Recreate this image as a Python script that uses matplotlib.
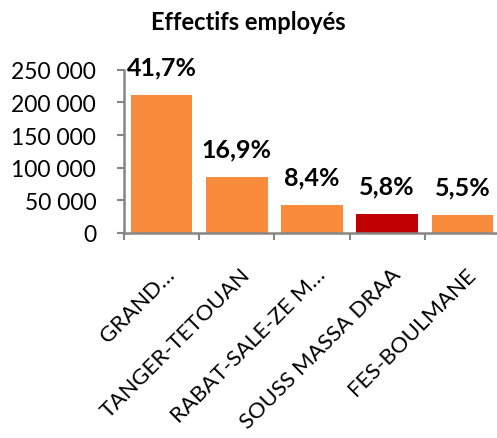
import matplotlib.pyplot as plt
from matplotlib.ticker import FuncFormatter
import matplotlib.transforms as mtransforms

regions = ["GRAND…", "TANGER-TETOUAN", "RABAT-SALE-ZE M…", "SOUSS MASSA DRAA", "FES-BOULMANE"]
effectifs = [211300, 85600, 42600, 29400, 27900]
parts = ["41,7%", "16,9%", "8,4%", "5,8%", "5,5%"]
colors = ["#F98B3C", "#F98B3C", "#F98B3C", "#C00000", "#F98B3C"]

plt.rcParams['font.family'] = ['Lato', 'DejaVu Sans']

fig = plt.figure(figsize=(4.97, 4.39), dpi=100)
ax = fig.add_axes([124 / 497, 1 - 234 / 439, 376 / 497, (234 - 70.7) / 439])

x = range(len(regions))
ax.bar(x, effectifs, width=0.82, color=colors)

for i, (v, p) in enumerate(zip(effectifs, parts)):
    ax.annotate(p, (i, v), xytext=(0, 12), textcoords='offset points',
                ha='center', va='bottom', fontsize=18, fontweight='bold')

ax.set_xlim(-0.5, 4.5)
ax.set_ylim(0, 250000)
ax.set_yticks(range(0, 250001, 50000))
ax.yaxis.set_major_formatter(FuncFormatter(lambda v, _: f"{int(v):,}".replace(",", " ")))
ax.tick_params(axis='y', labelsize=16.5, length=5, width=1.5, color='#868686', pad=15)

ax.set_xticks([i + 0.5 for i in range(-1, 5)], minor=False)
ax.set_xticklabels([])
ax.tick_params(axis='x', length=5, width=1.5, color='#868686')
for i, r in enumerate(regions):
    off = mtransforms.ScaledTranslation(10 / 100, -38 / 100, fig.dpi_scale_trans)
    ax.text(i, 0, r, transform=ax.get_xaxis_transform() + off, rotation=45,
            rotation_mode='anchor', ha='right', va='center', fontsize=16)

for s in ['top', 'right']:
    ax.spines[s].set_visible(False)
for s in ['left', 'bottom']:
    ax.spines[s].set_color('#868686')
    ax.spines[s].set_linewidth(1.8)

fig.text(0.5, 1 - 22 / 439, "Effectifs employés", ha='center', va='center',
         fontsize=17, fontweight='bold')

fig.savefig("out.png", dpi=100)
